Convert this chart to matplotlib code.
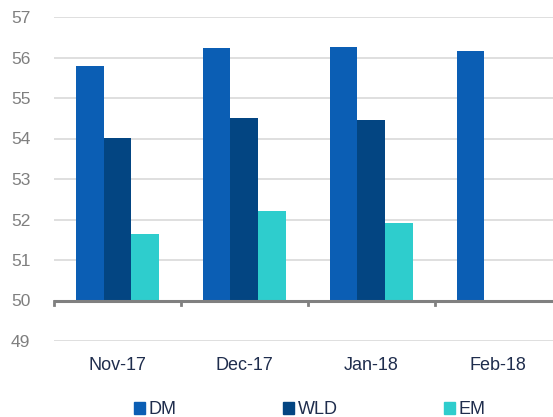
import matplotlib
matplotlib.use("Agg")
import matplotlib.pyplot as plt
import numpy as np
from matplotlib.patches import Patch

categories = ["Nov-17", "Dec-17", "Jan-18", "Feb-18"]
dm = [55.78, 56.23, 56.26, 56.15]
wld = [54.02, 54.50, 54.46, np.nan]
em = [51.65, 52.20, 51.92, np.nan]
yticks = [49, 50, 51, 52, 53, 54, 55, 56, 57]

plt.rcParams['font.family'] = ['Liberation Sans', 'DejaVu Sans']

W, H = 553, 417
fig = plt.figure(figsize=(W/100, H/100), dpi=100)
ax = fig.add_axes([54/W, (H-341)/H, (553-54)/W, (341-17)/H])

x = np.arange(len(categories))
w = 0.22
base = 50
c_dm, c_wld, c_em = "#0B5EB4", "#034582", "#2ECDCD"
ax.bar(x - w, np.array(dm) - base, w, bottom=base, color=c_dm, zorder=3)
ax.bar(x, np.array(wld) - base, w, bottom=base, color=c_wld, zorder=3)
ax.bar(x + w, np.array(em) - base, w, bottom=base, color=c_em, zorder=3)

ax.set_ylim(49, 57)
ax.set_xlim(-0.5, 3.43)
ax.set_yticks(yticks)
ax.set_yticklabels([str(v) for v in yticks])
for s in ax.spines.values():
    s.set_visible(False)
ax.yaxis.grid(True, color="#D9D9D9", lw=1.2, zorder=0)
ax.tick_params(axis='y', length=0, pad=17, labelsize=12.5, labelcolor="#7F7F7F")

# x axis line at 50
ax.axhline(50, color="#808080", lw=2.2, zorder=4)
ax.set_xticks(x)
ax.set_xticklabels([])
ax.tick_params(axis='x', length=0)
for xi, c in zip(x, categories):
    ax.text(xi, 48.4, c, ha='center', va='center', fontsize=13, color="#1F2D4D")
# tick marks at category boundaries
for b in np.arange(-0.5, 3.0, 1.0):
    ax.plot([b, b], [50, 49.88], color="#808080", lw=2, zorder=4, clip_on=False)

handles = [Patch(color=c_dm, label="DM"), Patch(color=c_wld, label="WLD"), Patch(color=c_em, label="EM")]
leg = fig.legend(handles=handles, loc='center', bbox_to_anchor=(310/W, (H-410)/H), ncol=3,
                 frameon=False, fontsize=13, handlelength=0.6, handleheight=0.6,
                 handletextpad=0.2, columnspacing=5.9, labelcolor="#1F2D4D")

fig.savefig("out.png", dpi=100)
